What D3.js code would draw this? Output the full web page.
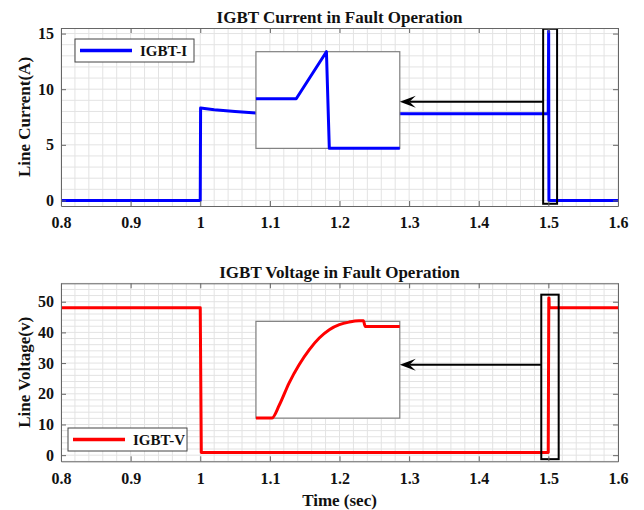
<!DOCTYPE html>
<html>
<head>
<meta charset="utf-8">
<script src="https://cdn.jsdelivr.net/npm/d3@7"></script>
<style>
  body { margin: 0; background: #fff; }
  svg text { font-family: "Liberation Serif", "Times New Roman", serif; font-weight: bold; fill: #111; }
</style>
</head>
<body>
<svg id="chart" width="644" height="510"></svg>
<script>
/* IGBT current / voltage in fault operation, two stacked panels with zoom insets. */

// shared time axis
const xTicks = [0.8, 0.9, 1.0, 1.1, 1.2, 1.3, 1.4, 1.5, 1.6];
const xTickLabels = ["0.8", "0.9", "1", "1.1", "1.2", "1.3", "1.4", "1.5", "1.6"];

// panel 1: IGBT current (A)
const curT = [0.8, 1.0, 1.0005, 1.02, 1.05, 1.08, 1.30, 1.4998, 1.5004, 1.5008, 1.6];
const curA = [0, 0, 8.3, 8.15, 8.0, 7.85, 7.8, 7.8, 15.2, 0, 0];
const curTicks = [0, 5, 10, 15];
// zoomed view of the turn-off spike
const insetCurT = [1.4990, 1.49956, 1.49998, 1.50002, 1.5010];
const insetCurA = [7.8, 7.8, 15.2, 0, 0];

// panel 2: IGBT voltage (V)
const voltT = [0.8, 1.0, 1.0015, 1.4998, 1.5006, 1.5009, 1.5012, 1.6];
const voltV = [48, 48, 0.9, 0.9, 51.2, 51.2, 48, 48];
const voltTicks = [0, 10, 20, 30, 40, 50];
// zoomed view of the voltage rise
const insetVoltT = [1.4995, 1.49983, 1.49999, 1.50019, 1.50040, 1.50061, 1.50082,
                    1.50103, 1.50124, 1.50144, 1.50165, 1.50174, 1.50178, 1.5025];
const insetVoltV = [1, 1, 7.9, 19.1, 28.6, 36.3, 42.4, 46.7, 49.3, 50.6, 51.3, 51.3, 48.4, 48.4];

const svg = d3.select("#chart");
const L = 61, R = 618;

const panels = [
  {
    id: "cur", title: "IGBT Current in Fault Operation", ylabel: "Line Current(A)",
    top: 28, bottom: 206, ydom: [-0.5, 15.5], yticks: curTicks, ystep: 1,
    t: curT, v: curA, color: "#0000ff", legend: "IGBT-I",
    legendBox: { x: 75, y: 39 },
    inset: { x: [1.08, 1.2866], y: [4.68, 13.37], tdom: [1.4990, 1.5010], vdom: [0, 15.2],
             t: insetCurT, v: insetCurA, curve: d3.curveLinear },
    zoomBox: { x: [1.4925, 1.5125], y: [-0.3, 15.43] }, arrowY: 8.87
  },
  {
    id: "volt", title: "IGBT Voltage in Fault Operation", ylabel: "Line Voltage(v)",
    top: 283.3, bottom: 461.3, ydom: [-2, 56], yticks: voltTicks, ystep: 2,
    t: voltT, v: voltV, color: "#ff0000", legend: "IGBT-V",
    legendBox: { x: 68, y: 428 },
    inset: { x: [1.08, 1.2866], y: [12.07, 43.6], tdom: [1.4995, 1.5025], vdom: [1, 51],
             t: insetVoltT, v: insetVoltV, curve: d3.curveMonotoneX },
    zoomBox: { x: [1.4898, 1.5148], y: [-1.3, 52.3] }, arrowY: 29.45, xlabel: "Time (sec)"
  }
];

const x = d3.scaleLinear().domain([0.8, 1.6]).range([L, R]);

panels.forEach((p) => {
  const y = d3.scaleLinear().domain(p.ydom).range([p.bottom, p.top]);
  const g = svg.append("g");

  g.append("clipPath").attr("id", "clip-" + p.id)
    .append("rect").attr("x", L).attr("y", p.top).attr("width", R - L).attr("height", p.bottom - p.top);

  // grid (minor + major)
  const xGrid = d3.range(0, 41).map((i) => 0.8 + i * 0.02);
  const yGrid = d3.range(Math.ceil(p.ydom[0] / p.ystep), Math.floor(p.ydom[1] / p.ystep) + 1).map((i) => i * p.ystep);
  g.append("g").selectAll("line").data(xGrid).join("line")
    .attr("x1", (d) => x(d)).attr("x2", (d) => x(d))
    .attr("y1", p.top).attr("y2", p.bottom)
    .attr("stroke", "#e3e3e3").attr("stroke-width", 1);
  g.append("g").selectAll("line").data(yGrid).join("line")
    .attr("x1", L).attr("x2", R)
    .attr("y1", (d) => y(d)).attr("y2", (d) => y(d))
    .attr("stroke", "#e3e3e3").attr("stroke-width", 1);

  const plot = g.append("g").attr("clip-path", `url(#clip-${p.id})`);

  const line = d3.line().x((d) => x(d[0])).y((d) => y(d[1]));
  plot.append("path")
    .datum(d3.zip(p.t, p.v))
    .attr("d", line)
    .attr("fill", "none").attr("stroke", p.color).attr("stroke-width", 3)
    .attr("stroke-linejoin", "round");

  // inset with its own scales
  const ix0 = x(p.inset.x[0]), ix1 = x(p.inset.x[1]);
  const iy0 = y(p.inset.y[1]), iy1 = y(p.inset.y[0]);
  plot.append("rect")
    .attr("x", ix0).attr("y", iy0).attr("width", ix1 - ix0).attr("height", iy1 - iy0)
    .attr("fill", "#fff").attr("stroke", "#808080").attr("stroke-width", 1.2);
  const xi = d3.scaleLinear().domain(p.inset.tdom).range([ix0, ix1]);
  const yi = d3.scaleLinear().domain(p.inset.vdom).range([iy1, iy0]);
  plot.append("path")
    .datum(d3.zip(p.inset.t, p.inset.v))
    .attr("d", d3.line().x((d) => xi(d[0])).y((d) => yi(d[1])).curve(p.inset.curve))
    .attr("fill", "none").attr("stroke", p.color).attr("stroke-width", 3)
    .attr("stroke-linejoin", "round");

  // zoom rectangle + arrow to inset
  const zb = p.zoomBox;
  plot.append("rect")
    .attr("x", x(zb.x[0])).attr("y", y(zb.y[1]))
    .attr("width", x(zb.x[1]) - x(zb.x[0])).attr("height", y(zb.y[0]) - y(zb.y[1]))
    .attr("fill", "none").attr("stroke", "#000").attr("stroke-width", 2);
  const ax0 = x(zb.x[0]), ax1 = x(p.inset.x[1]), ay = y(p.arrowY);
  const hl = 16, hw = 6;
  plot.append("line")
    .attr("x1", ax0).attr("x2", ax1 + hl * 0.6).attr("y1", ay).attr("y2", ay)
    .attr("stroke", "#000").attr("stroke-width", 2);
  plot.append("path")
    .attr("d", `M${ax1},${ay} L${ax1 + hl},${ay - hw} L${ax1 + hl * 0.6},${ay} L${ax1 + hl},${ay + hw} Z`)
    .attr("fill", "#000");

  // axes box with inward ticks
  const fmt = (d) => xTickLabels[xTicks.indexOf(d)];
  const xAxis = g.append("g").attr("transform", `translate(0,${p.bottom})`)
    .call(d3.axisBottom(x).tickValues(xTicks).tickFormat(fmt).tickSize(-5).tickSizeOuter(0).tickPadding(11));
  const xTop = g.append("g").attr("transform", `translate(0,${p.top})`)
    .call(d3.axisTop(x).tickValues(xTicks).tickFormat("").tickSize(-5).tickSizeOuter(0));
  const yAxis = g.append("g").attr("transform", `translate(${L},0)`)
    .call(d3.axisLeft(y).tickValues(p.yticks).tickSize(-5).tickSizeOuter(0).tickPadding(7));
  const yRight = g.append("g").attr("transform", `translate(${R},0)`)
    .call(d3.axisRight(y).tickValues(p.yticks).tickFormat("").tickSize(-5).tickSizeOuter(0));
  [xAxis, xTop, yAxis, yRight].forEach((a) => {
    a.select(".domain").attr("stroke", "#666");
    a.selectAll(".tick line").attr("stroke", "#666");
    a.selectAll(".tick text")
      .attr("font-family", "Liberation Serif, Times New Roman, serif")
      .attr("font-weight", "bold").attr("font-size", 16).attr("fill", "#222");
  });

  // legend
  const lb = p.legendBox;
  const lg = g.append("g").attr("transform", `translate(${lb.x},${lb.y})`);
  lg.append("rect").attr("width", 119).attr("height", 23)
    .attr("fill", "#fff").attr("stroke", "#444").attr("stroke-width", 1);
  lg.append("line").attr("x1", 5).attr("x2", 57).attr("y1", 11.5).attr("y2", 11.5)
    .attr("stroke", p.color).attr("stroke-width", 3.5);
  lg.append("text").attr("x", 65).attr("y", 17).attr("font-size", 15).text(p.legend);

  // titles
  g.append("text").attr("x", (L + R) / 2).attr("y", p.top - 5)
    .attr("text-anchor", "middle").attr("font-size", 17).text(p.title);
  g.append("text")
    .attr("transform", `translate(30,${(p.top + p.bottom) / 2}) rotate(-90)`)
    .attr("text-anchor", "middle").attr("font-size", 17).text(p.ylabel);
  if (p.xlabel) {
    g.append("text").attr("x", (L + R) / 2).attr("y", p.bottom + 45)
      .attr("text-anchor", "middle").attr("font-size", 17).text(p.xlabel);
  }
});
</script>
</body>
</html>
